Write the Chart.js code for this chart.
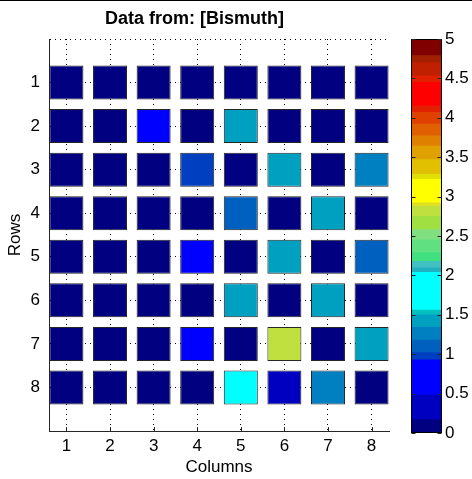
<!DOCTYPE html>
<html>
<head>
<meta charset="utf-8">
<title>Data from: [Bismuth]</title>
<script src="https://cdn.jsdelivr.net/npm/chart.js@4/dist/chart.umd.min.js"></script>
<style>
    html, body { margin: 0; padding: 0; background: #fff; }
    #wrap { position: relative; width: 472px; height: 479px; overflow: hidden; }
    .topline { position: absolute; left: 0; top: 0; width: 472px; height: 1px; background: #000; }
    #main { position: absolute; left: 0; top: 0; }
    #cbar { position: absolute; left: 400px; top: 0; }
</style>
</head>
<body>
<div id="wrap">
    <canvas id="main" width="426" height="479"></canvas>
    <canvas id="cbar" width="72" height="479"></canvas>
    <div class="topline"></div>
</div>
<script>
// Grid data (rows top to bottom, columns left to right)
const columns = [1, 2, 3, 4, 5, 6, 7, 8];
const rowLabels = [1, 2, 3, 4, 5, 6, 7, 8];
const cellValues = [
    [0, 0, 0, 0, 0, 0, 0, 0],
    [0, 0, 0.7, 0, 1.4, 0, 0, 0],
    [0, 0, 0, 0.97, 0, 1.4, 0, 1.25],
    [0, 0, 0, 0, 1.1, 0, 1.4, 0],
    [0, 0, 0, 0.7, 0, 1.4, 0, 1.1],
    [0, 0, 0, 0, 1.4, 0, 1.4, 0],
    [0, 0, 0, 0.7, 0, 2.8, 0, 1.4],
    [0, 0, 0, 0, 1.8, 0.3, 1.25, 0]
];

// Colorbar
const colorbarTicks = [0, 0.5, 1, 1.5, 2, 2.5, 3, 3.5, 4, 4.5, 5];
const bandEdges = [0, 0.17, 0.48, 0.93, 1.02, 1.18, 1.34, 1.50, 1.56, 2.04, 2.10, 2.18, 2.29, 2.45,
    2.58, 2.75, 2.88, 2.92, 3.22, 3.28, 3.47, 3.64, 3.77, 3.92, 4.07, 4.15, 4.45, 4.53, 4.70, 4.79, 5];
const bandColors = ['#000080', '#0000c0', '#0000ff', '#0040c0', '#0060c0', '#0080c0', '#00a0c0', '#00c0c0',
    '#00ffff', '#20b0c0', '#40c0c0', '#40e080', '#60e080', '#80e080', '#a0e040', '#c0e040', '#e0e020',
    '#ffff00', '#e0e000', '#e0c000', '#e0a000', '#e08000', '#e06000', '#e04000', '#e02000', '#ff0000',
    '#e02000', '#c02000', '#a02000', '#800000'];

const FONT = "'Liberation Sans', Arial, Helvetica, sans-serif";
const AXIS_COLOR = '#262626';
const cellHalf = 0.39;

function colorFor(v) {
    for (let i = 0; i < bandColors.length; i++) {
        if (v < bandEdges[i + 1]) return bandColors[i];
    }
    return bandColors[bandColors.length - 1];
}

// small ticks pointing into the plot, like matlab
const innerTicks = {
    id: 'innerTicks',
    afterDatasetsDraw(chart) {
        const { ctx, chartArea, scales } = chart;
        ctx.save();
        ctx.strokeStyle = AXIS_COLOR;
        ctx.lineWidth = 1;
        ctx.beginPath();
        columns.forEach(c => {
            const x = Math.round(scales.x.getPixelForValue(c)) + 0.5;
            ctx.moveTo(x, chartArea.bottom);
            ctx.lineTo(x, chartArea.bottom - 4);
        });
        ctx.stroke();
        ctx.restore();
    }
};

const cellDatasets = rowLabels.map((r, i) => ({
    data: columns.map(c => ({ x: c, y: [r - cellHalf, r + cellHalf] })),
    backgroundColor: cellValues[i].map(colorFor),
    borderColor: '#262626',
    borderWidth: 1,
    borderSkipped: false,
    grouped: false,
    barPercentage: 2 * cellHalf,
    categoryPercentage: 1
}));

new Chart(document.getElementById('main'), {
    type: 'bar',
    data: { datasets: cellDatasets },
    options: {
        responsive: false,
        animation: false,
        layout: { padding: { left: 0, right: 37, top: 0, bottom: 0 } },
        plugins: {
            legend: { display: false },
            tooltip: { enabled: false },
            title: {
                display: true,
                text: 'Data from: [Bismuth]',
                color: '#000',
                font: { family: FONT, size: 18, weight: 'bold' },
                padding: { top: 8, bottom: 9.4 }
            }
        },
        scales: {
            x: {
                type: 'linear',
                min: 0.6,
                max: 8.4,
                offset: false,
                afterBuildTicks: s => { s.ticks = columns.map(v => ({ value: v })); },
                afterFit: s => { s.height = 48; },
                grid: { offset: false, color: '#000', lineWidth: 1, drawTicks: false },
                border: { display: true, color: AXIS_COLOR, width: 1, dash: [1, 4] },
                ticks: { color: '#000', font: { family: FONT, size: 17 }, padding: 5, maxRotation: 0 },
                title: {
                    display: true, text: 'Columns', color: '#000',
                    font: { family: FONT, size: 17 }, padding: { top: 0, bottom: 1 }
                }
            },
            y: {
                type: 'linear',
                min: 0,
                max: 9,
                reverse: true,
                afterBuildTicks: s => { s.ticks = [0].concat(rowLabels).map(v => ({ value: v })); },
                afterFit: s => { s.width = 49; },
                grid: { color: '#000', lineWidth: 1, drawTicks: false },
                border: { display: true, color: AXIS_COLOR, width: 1, dash: [1, 4] },
                ticks: {
                    color: '#000', font: { family: FONT, size: 17 }, padding: 9,
                    callback: v => (v === 0 ? '' : String(v))
                },
                title: {
                    display: true, text: 'Rows', color: '#000',
                    font: { family: FONT, size: 17 }, padding: { top: 5, bottom: 0 }
                }
            }
        }
    },
    plugins: [innerTicks]
});

// Colorbar drawn as stacked floating bars on its own value axis
const colorbarFrame = {
    id: 'colorbarFrame',
    afterDatasetsDraw(chart) {
        const { ctx, chartArea, scales } = chart;
        const l = Math.round(chartArea.left) + 0.5;
        const r = Math.round(chartArea.right) - 0.5;
        ctx.save();
        ctx.strokeStyle = '#000';
        ctx.lineWidth = 1;
        ctx.strokeRect(l, Math.round(chartArea.top) + 0.5, r - l, Math.round(chartArea.bottom - chartArea.top) - 1);
        ctx.strokeStyle = AXIS_COLOR;
        ctx.beginPath();
        colorbarTicks.forEach(t => {
            const y = Math.round(scales.y.getPixelForValue(t)) + 0.5;
            ctx.moveTo(l, y); ctx.lineTo(l + 4, y);
            ctx.moveTo(r, y); ctx.lineTo(r - 4, y);
        });
        ctx.stroke();
        ctx.restore();
    }
};

const bandDatasets = bandColors.map((col, i) => ({
    data: [[bandEdges[i], bandEdges[i + 1]]],
    backgroundColor: col,
    borderWidth: 0,
    grouped: false,
    barPercentage: 1,
    categoryPercentage: 1
}));

new Chart(document.getElementById('cbar'), {
    type: 'bar',
    data: { labels: [''], datasets: bandDatasets },
    options: {
        responsive: false,
        animation: false,
        layout: { padding: { left: 11, top: 39, bottom: 46, right: 0 } },
        plugins: { legend: { display: false }, tooltip: { enabled: false } },
        scales: {
            x: { display: false },
            y: {
                position: 'right',
                min: 0,
                max: 5,
                afterBuildTicks: s => { s.ticks = colorbarTicks.map(v => ({ value: v })); },
                afterFit: s => { s.width = 30; },
                grid: { display: false, drawTicks: false },
                border: { display: false },
                ticks: {
                    color: '#000', font: { family: FONT, size: 17 }, padding: 3,
                    callback: v => String(v)
                }
            }
        }
    },
    plugins: [colorbarFrame]
});
</script>
</body>
</html>
